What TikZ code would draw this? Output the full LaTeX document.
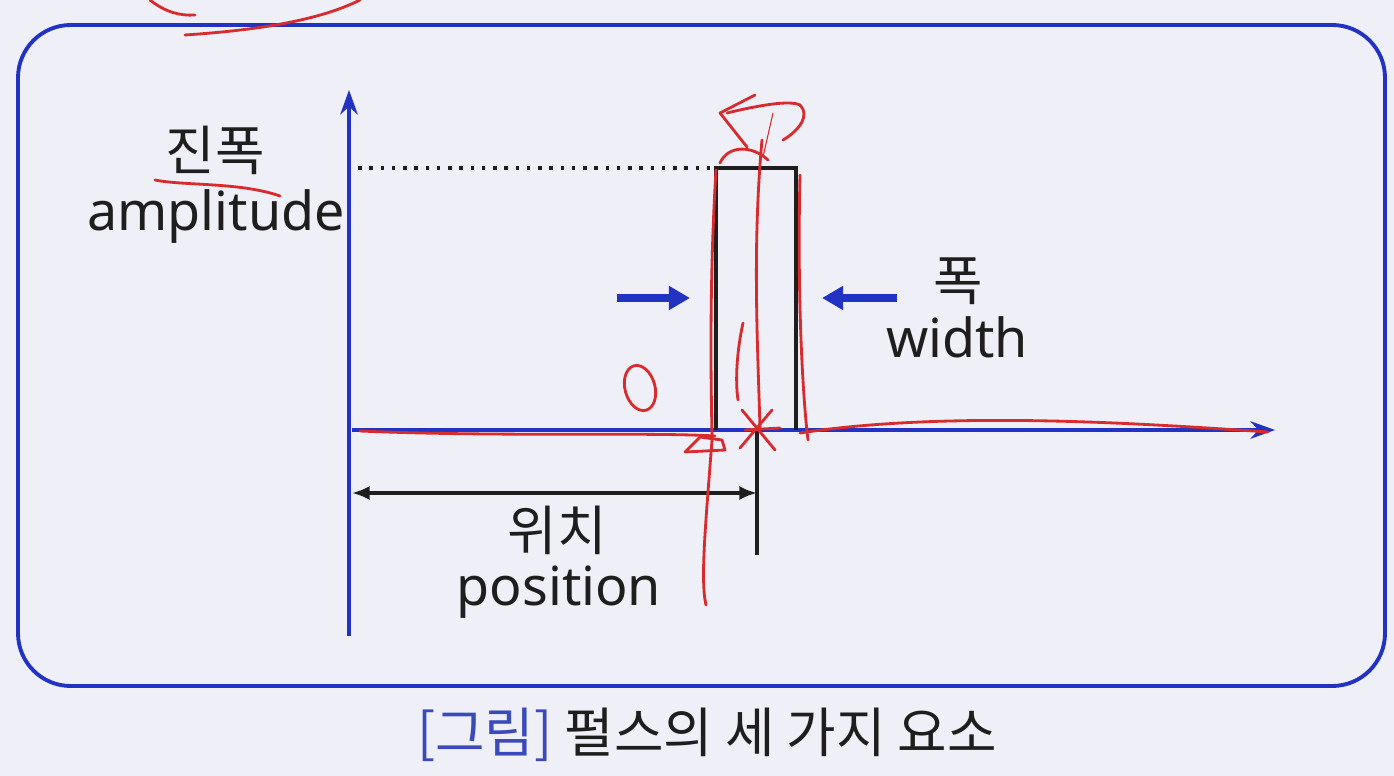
\documentclass[tikz,border=0pt]{standalone}
\usepackage{fontspec}
\setmainfont{Noto Sans}
\newfontfamily\kor{Noto Sans CJK KR}
\usetikzlibrary{arrows.meta}
\definecolor{paper}{HTML}{EFEFF8}
\definecolor{boxblue}{HTML}{2233C4}
\definecolor{capblue}{HTML}{3A4AB8}
\definecolor{pen}{HTML}{D92A2E}
\definecolor{ink}{HTML}{1E1E1E}

\begin{document}
\begin{tikzpicture}[x=0.01cm,y=-0.01cm,
  axis/.style={boxblue, line width=0.9pt, -{Stealth[length=7pt,width=5pt]}},
  fatarrow/.style={boxblue, line width=2pt, -{Triangle[length=6pt,width=6.5pt]}},
  pulse/.style={ink, line width=0.9pt},
  label/.style={ink, inner sep=0pt, anchor=base, font=\fontsize{15.3}{18}\selectfont},
  scribble/.style={pen, line width=0.8pt, line cap=round, line join=round}]
\useasboundingbox[fill=paper] (0,0) rectangle (1394,776);
% frame
\draw[boxblue, line width=1.1pt, rounded corners=15pt] (18,25) rectangle (1385,686);
% axes
\coordinate (yBot) at (349,636);
\coordinate (yTop) at (349,90);
\coordinate (xL) at (352,430);
\coordinate (xR) at (1275,430);
\draw[axis] (yBot) -- (yTop);
\draw[axis] (xL) -- (xR);
% pulse
\coordinate (pBL) at (716,430);
\coordinate (pTL) at (716,168);
\coordinate (pTR) at (796,168);
\coordinate (pBR) at (796,430);
\coordinate (dotL) at (358,168);
\draw[ink, line width=1pt, dash pattern=on 1pt off 2.2pt] (dotL) -- (pTL);
\draw[pulse] (pBL) -- (pTL) -- (pTR) -- (pBR);
% position
\coordinate (mTop) at (757,430);
\coordinate (mBot) at (757,555);
\coordinate (posL) at (352,493);
\coordinate (posR) at (757,493);
\draw[pulse] (mTop) -- (mBot);
\draw[ink, line width=0.9pt, {Latex[length=5pt,width=4pt]}-{Latex[length=5pt,width=4pt]}] (posL) -- (posR);
% width arrows
\coordinate (inLa) at (617,298);
\coordinate (inLb) at (690,298);
\coordinate (inRa) at (897,298);
\coordinate (inRb) at (822,298);
\draw[fatarrow] (inLa) -- (inLb);
\draw[fatarrow] (inRa) -- (inRb);
% labels
\node[label] (ampKr) at (215,170) {\kor 진폭};
\node[label] (ampEn) at (216,230) {amplitude};
\node[label] (widKr) at (958,300) {\kor 폭};
\node[label] (widEn) at (957,357) {width};
\node[label] (posKr) at (557,550) {\kor 위치};
\node[label] (posEn) at (559,605) {position};
\node[label] (caption) at (707,752) {\kor\textcolor{capblue}{[그림]} 펄스의 세 가지 요소};
% handwriting
\draw[scribble] (150,0) .. controls (165,12) and (180,16) .. (195,15);
\draw[scribble] (185,35) .. controls (260,30) and (320,20) .. (360,0);
\draw[scribble] (155,180) .. controls (185,186) and (240,182) .. (280,196);
\draw[scribble] (640,388) ellipse [x radius=15, y radius=23, rotate=15];
\draw[scribble] (360,431) .. controls (500,437) and (650,432) .. (715,436);
\draw[scribble] (800,433) .. controls (950,410) and (1150,424) .. (1268,432);
\draw[scribble] (716,170) .. controls (708,300) and (712,420) .. (712,440)
  .. controls (706,520) and (700,580) .. (706,605);
\draw[scribble] (762,140) .. controls (752,250) and (758,350) .. (760,430);
\draw[scribble] (800,175) .. controls (797,300) and (803,400) .. (808,440);
\draw[scribble] (755,95) -- (720,113) -- (747,147);
\draw[scribble] (727,113) .. controls (760,105) and (790,100) .. (800,105)
  .. controls (810,115) and (800,130) .. (783,140);
\draw[scribble] (720,163) .. controls (728,145) and (752,145) .. (768,160);
\draw[pen, line width=0.3pt] (773,113) -- (763,157);
\draw[scribble] (743,323) .. controls (737,350) and (735,380) .. (738,400);
\draw[scribble] (685,452) -- (700,437) -- (722,440) -- (725,450) -- cycle;
\draw[scribble] (742,410) -- (775,450);
\draw[scribble] (772,410) -- (740,448);
\draw[scribble] (745,430) -- (780,428);
\end{tikzpicture}
\end{document}
